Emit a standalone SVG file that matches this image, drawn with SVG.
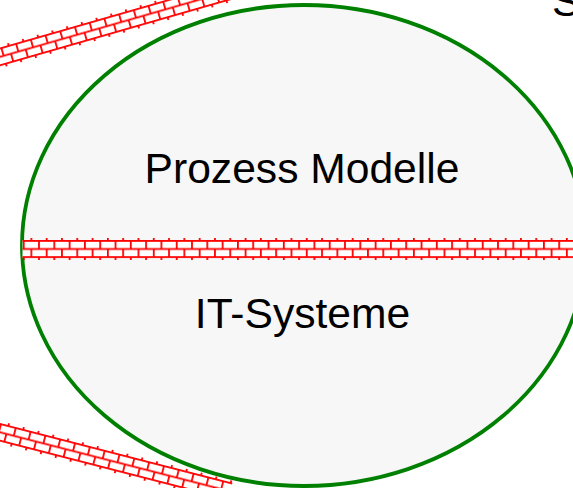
<svg xmlns="http://www.w3.org/2000/svg" width="573" height="488" viewBox="0 0 573 488">
  <style>
    .lbl { font-family: "Liberation Sans", Arial, sans-serif; font-size: 42.6px; fill: #000; }
    .band-bg { fill: #ffffff; }
    .band { fill: url(#bricks); }
  </style>
  <defs>
    <pattern id="bricks" patternUnits="userSpaceOnUse" width="15.3" height="16.2" x="0.3" y="0">
      <g stroke="#ff0000" stroke-width="1.8" fill="none">
        <line x1="0" y1="0.9" x2="15.3" y2="0.9"/>
        <line x1="0" y1="9" x2="15.3" y2="9"/>
        <line x1="0.9" y1="0.9" x2="0.9" y2="9"/>
        <line x1="8.55" y1="9" x2="8.55" y2="16.2"/>
        <line x1="8.55" y1="0" x2="8.55" y2="0.9"/>
      </g>
    </pattern>
  </defs>

  <g id="ellipse-node">
    <ellipse cx="304" cy="245.5" rx="282" ry="240.5" fill="#f7f7f7" stroke="#008000" stroke-width="3.8"/>
  </g>

  <g id="wall-middle" transform="translate(22.5,240)">
    <rect class="band-bg" x="0" y="0" width="552" height="18"/>
    <rect class="band" x="0" y="-2" width="552" height="22"/>
  </g>

  <g id="wall-top" transform="translate(0,47.5) rotate(-16)">
    <rect class="band-bg" x="-20" y="0" width="300" height="18"/>
    <rect class="band" x="-20" y="-2" width="300" height="22"/>
  </g>

  <g id="wall-bottom" transform="translate(0,423) rotate(14.4)">
    <rect class="band-bg" x="-20" y="0" width="260" height="18"/>
    <rect class="band" x="-20" y="-2" width="260" height="22"/>
  </g>

  <g id="label-prozess">
    <text class="lbl" x="302" y="183" text-anchor="middle">Prozess Modelle</text>
  </g>
  <g id="label-it">
    <text class="lbl" x="302.5" y="328" text-anchor="middle">IT-Systeme</text>
  </g>
  <g id="label-s">
    <text class="lbl" x="552" y="15.5">S</text>
  </g>
</svg>
